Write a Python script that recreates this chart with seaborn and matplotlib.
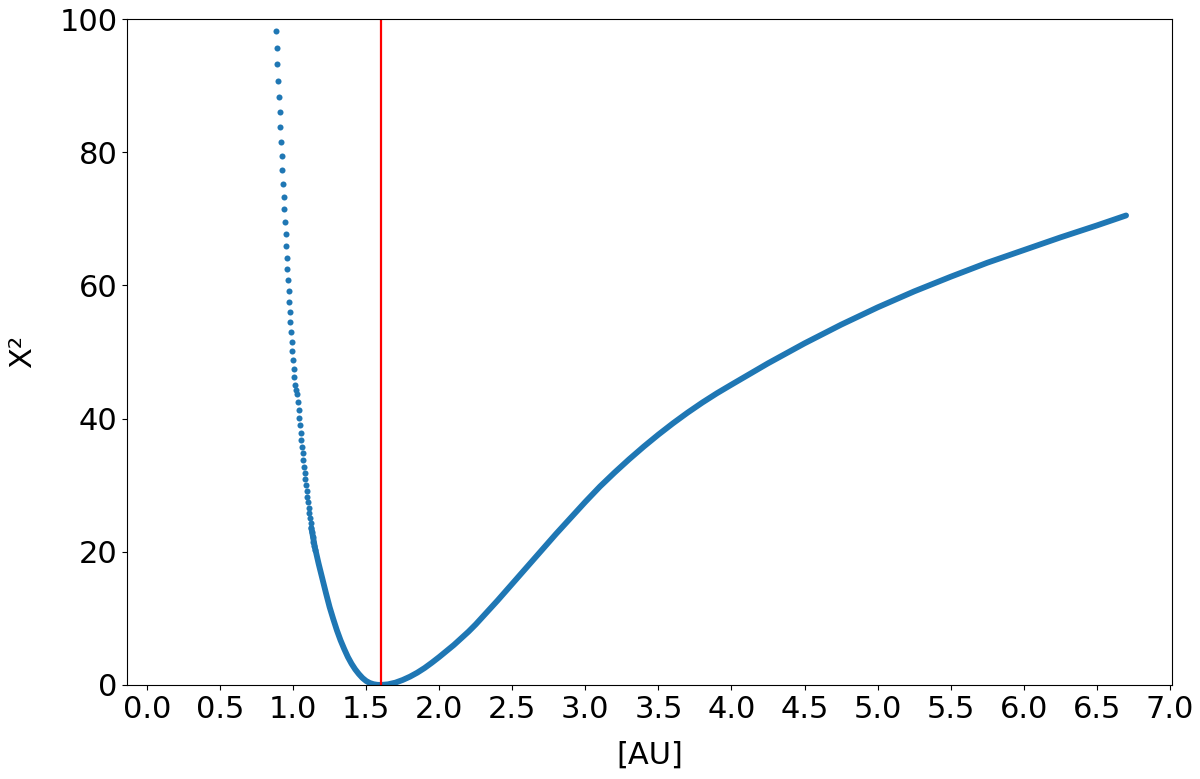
import numpy as np
import pandas as pd
import matplotlib
matplotlib.use("Agg")
import matplotlib.pyplot as plt
import seaborn as sns

# separate dots on the steep left branch (read dot by dot)
dots_x = [0.884, 0.888, 0.893, 0.897, 0.904, 0.909, 0.913, 0.918, 0.923, 0.927,
          0.932, 0.936, 0.941, 0.945, 0.950, 0.954, 0.959, 0.961, 0.965, 0.970,
          0.974, 0.979, 0.981, 0.986, 0.991, 0.995, 1.000, 1.005, 1.009, 1.014,
          1.022, 1.029, 1.034, 1.039, 1.043, 1.048, 1.052, 1.057, 1.062, 1.066,
          1.071, 1.075, 1.080, 1.084, 1.089, 1.093, 1.098, 1.103, 1.107, 1.112,
          1.116, 1.121, 1.125, 1.130, 1.134, 1.139, 1.143, 1.148]
dots_y = [98.2, 95.6, 93.2, 90.7, 88.3, 86.1, 83.8, 81.5, 79.4, 77.3,
          75.3, 73.3, 71.4, 69.5, 67.7, 65.9, 64.1, 62.4, 60.8, 59.1,
          57.5, 56.0, 54.5, 53.0, 51.5, 50.1, 48.8, 47.5, 46.2, 45.0,
          44.3, 43.7, 42.5, 41.3, 40.1, 39.0, 37.9, 36.8, 35.8, 34.8,
          33.8, 32.8, 31.8, 30.9, 30.0, 29.1, 28.2, 27.4, 26.6, 25.8,
          25.0, 24.3, 23.6, 22.9, 22.2, 21.5, 20.9, 20.3]

# dense part where the dots merge into a thick line
curve_x = [1.125, 1.15, 1.175, 1.20, 1.225, 1.25, 1.275, 1.30, 1.325, 1.35,
           1.375, 1.40, 1.425, 1.45, 1.475, 1.50, 1.525, 1.55, 1.575, 1.60,
           1.65, 1.70, 1.75, 1.80, 1.85, 1.90, 1.95, 2.00, 2.05, 2.10,
           2.15, 2.20, 2.25, 2.30, 2.40, 2.50, 2.60, 2.70, 2.80, 2.90,
           3.00, 3.10, 3.20, 3.30, 3.40, 3.50, 3.60, 3.70, 3.80, 3.90,
           4.00, 4.25, 4.50, 4.75, 5.00, 5.25, 5.50, 5.75, 6.00, 6.25,
           6.50, 6.70]
curve_y = [23.6, 20.6, 18.2, 16.0, 13.8, 11.7, 9.9, 8.2, 6.7, 5.4,
           4.2, 3.2, 2.35, 1.65, 1.05, 0.6, 0.3, 0.12, 0.03, 0.0,
           0.1, 0.35, 0.75, 1.25, 1.85, 2.55, 3.35, 4.2, 5.1, 6.0,
           7.0, 8.0, 9.1, 10.3, 12.7, 15.2, 17.7, 20.2, 22.7, 25.1,
           27.5, 29.8, 31.9, 33.9, 35.8, 37.6, 39.3, 40.9, 42.4, 43.8,
           45.1, 48.3, 51.3, 54.1, 56.7, 59.1, 61.3, 63.4, 65.3, 67.2,
           69.0, 70.5]

best_fit = 1.6

dots = pd.DataFrame({"a": dots_x, "chi2": dots_y})
curve = pd.DataFrame({"a": curve_x, "chi2": curve_y})

fig = plt.figure(figsize=(12, 7.79), dpi=100)
ax = fig.add_axes([0.106, 0.1207, 0.871, 0.8549])

blue = "#1f77b4"
sns.scatterplot(data=dots, x="a", y="chi2", s=19, color=blue, linewidth=0, ax=ax)
sns.lineplot(data=curve, x="a", y="chi2", color=blue, linewidth=4.2,
             solid_capstyle="round", solid_joinstyle="round", ax=ax)
ax.axvline(best_fit, color="red", linewidth=1.6)

ax.set_xlim(-0.135, 7.017)
ax.set_ylim(0, 100)
ax.set_xticks(np.arange(0, 7.01, 0.5))
ax.set_yticks([0, 20, 40, 60, 80, 100])
ax.tick_params(labelsize=22)
ax.set_xlabel("[AU]", fontsize=22, labelpad=12)
ax.set_ylabel("X²", fontsize=22, labelpad=16)

fig.savefig("out.png", dpi=100)
